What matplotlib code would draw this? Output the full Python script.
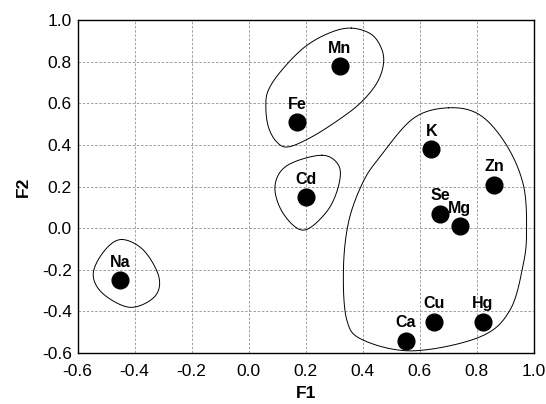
import numpy as np
import matplotlib
matplotlib.use('Agg')
import matplotlib.pyplot as plt

plt.rcParams['font.family'] = ['Liberation Sans', 'DejaVu Sans']

# element loadings on F1 / F2
elements = ['Na', 'Mn', 'Fe', 'Cd', 'K', 'Zn', 'Se', 'Mg', 'Cu', 'Hg', 'Ca']
f1 = [-0.45, 0.32, 0.17, 0.20, 0.64, 0.86, 0.67, 0.74, 0.65, 0.82, 0.55]
f2 = [-0.25, 0.78, 0.51, 0.15, 0.38, 0.21, 0.07, 0.01, -0.45, -0.45, -0.54]

# hand drawn group outlines (control points, data coords)
na_x = [-0.445, -0.369, -0.315, -0.330, -0.416, -0.512, -0.545, -0.504]
na_y = [-0.054, -0.105, -0.233, -0.329, -0.380, -0.313, -0.217, -0.105]

cd_x = [0.256, 0.316, 0.314, 0.273, 0.192, 0.121, 0.092, 0.133]
cd_y = [0.351, 0.300, 0.199, 0.079, -0.009, 0.071, 0.199, 0.300]

mnfe_x = [0.360, 0.430, 0.466, 0.472, 0.448, 0.390, 0.314, 0.221, 0.139, 0.098, 0.069,
          0.060, 0.069, 0.116, 0.197, 0.285]
mnfe_y = [0.962, 0.932, 0.862, 0.786, 0.695, 0.600, 0.520, 0.439, 0.391, 0.415, 0.487,
          0.584, 0.664, 0.760, 0.872, 0.940]

big_x = [0.700, 0.811, 0.904, 0.963, 0.974, 0.963, 0.916, 0.811, 0.577, 0.402,
         0.344, 0.332, 0.350, 0.400, 0.460, 0.577]
big_y = [0.579, 0.544, 0.399, 0.207, -0.009, -0.169, -0.393, -0.522, -0.589, -0.538,
         -0.442, -0.201, 0.030, 0.220, 0.343, 0.528]

outlines = [(na_x, na_y), (cd_x, cd_y), (mnfe_x, mnfe_y), (big_x, big_y)]


def closed_spline(xs, ys, n=30):
    # closed catmull-rom through the control points
    p = np.column_stack([xs, ys])
    m = len(p)
    out = []
    for i in range(m):
        p0, p1, p2, p3 = p[i - 1], p[i], p[(i + 1) % m], p[(i + 2) % m]
        t = np.linspace(0, 1, n, endpoint=False)[:, None]
        seg = 0.5 * ((2 * p1) + (-p0 + p2) * t + (2 * p0 - 5 * p1 + 4 * p2 - p3) * t**2
                     + (-p0 + 3 * p1 - 3 * p2 + p3) * t**3)
        out.append(seg)
    out = np.vstack(out)
    return np.vstack([out, out[:1]])


fig = plt.figure(figsize=(5.46, 4.04), dpi=100)
ax = fig.add_axes([0.142, 0.126, 0.836, 0.824])

ax.grid(True, color='#909090', linestyle=(0, (3, 2)), linewidth=0.6)
ax.set_axisbelow(True)

for xs, ys in outlines:
    c = closed_spline(xs, ys)
    ax.plot(c[:, 0], c[:, 1], color='black', linewidth=0.7, zorder=2)

ax.scatter(f1, f2, s=145, color='black', zorder=3)
for name, x, y in zip(elements, f1, f2):
    ax.annotate(name, (x, y), xytext=(0, 7.5), textcoords='offset points',
                ha='center', va='bottom', fontsize=11.5, fontweight='bold', zorder=4)

ax.set_xlim(-0.6, 1.0)
ax.set_ylim(-0.6, 1.0)
ax.set_xticks(np.arange(-0.6, 1.01, 0.2))
ax.set_yticks(np.arange(-0.6, 1.01, 0.2))
ax.xaxis.set_major_formatter(matplotlib.ticker.FormatStrFormatter('%.1f'))
ax.yaxis.set_major_formatter(matplotlib.ticker.FormatStrFormatter('%.1f'))
ax.tick_params(length=0, labelsize=12.5)
ax.tick_params(axis='x', pad=8)
ax.tick_params(axis='y', pad=4)
for s in ax.spines.values():
    s.set_linewidth(1.0)

ax.set_xlabel('F1', fontsize=12.5, fontweight='bold', labelpad=5)
ax.set_ylabel('F2', fontsize=12.5, fontweight='bold', labelpad=8)

fig.savefig('out.png', dpi=100)
